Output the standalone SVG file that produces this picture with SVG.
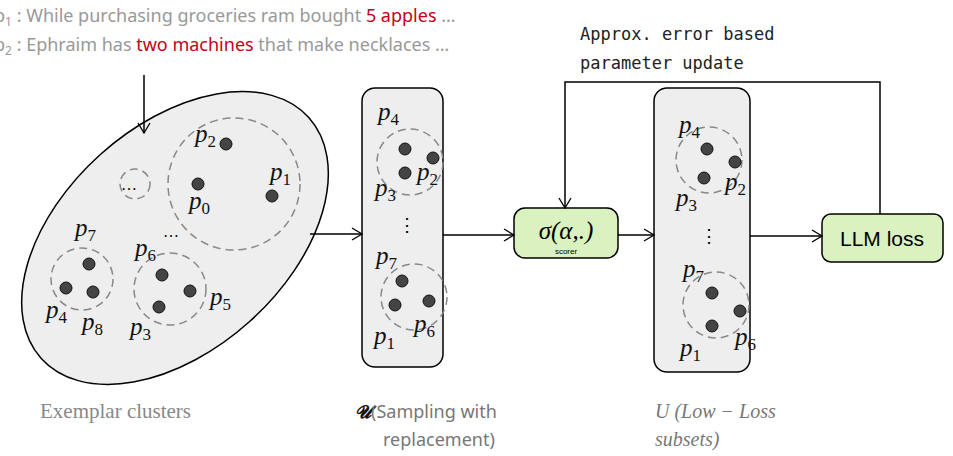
<svg xmlns="http://www.w3.org/2000/svg" width="953" height="456" viewBox="0 0 953 456">
<defs>
<marker id="ah" markerWidth="14" markerHeight="14" refX="11" refY="7" orient="auto" markerUnits="userSpaceOnUse"><path d="M1,1 L11,7 L1,13" fill="none" stroke="#000" stroke-width="1.3"/></marker>
</defs>
<style>
.dot{fill:#444;stroke:#111;stroke-width:1}
.cl{fill:none;stroke:#888;stroke-width:1.5;stroke-dasharray:8 5}
.p{font-family:"Liberation Serif",serif;font-style:italic;font-size:25px;fill:#111}
.p tspan{font-size:17px;font-style:normal}
.box{fill:#eee;stroke:#000;stroke-width:1.5}
.g{fill:#d9f2c0;stroke:#000;stroke-width:1.5}
.ln{fill:none;stroke:#000;stroke-width:1.5}
.t{font-family:"Noto Sans",sans-serif;font-size:18px;fill:#999}
.r{fill:#c4001a}
</style>
<g id="header">
<text class="t" x="-6" y="22">p<tspan font-size="12" dy="4">1</tspan><tspan dy="-4"> : While purchasing groceries ram bought </tspan><tspan class="r">5 apples</tspan> …</text>
<text class="t" x="-6" y="51">p<tspan font-size="12" dy="4">2</tspan><tspan dy="-4"> : Ephraim has </tspan><tspan class="r">two machines</tspan> that make necklaces …</text>
</g>
<g id="update-label" font-family="DejaVu Sans Mono,monospace" font-size="17" fill="#222">
<text x="580" y="40">Approx. error based</text>
<text x="580" y="69">parameter update</text>
</g>
<g id="clusters">
<ellipse cx="175" cy="238" rx="180" ry="112" transform="rotate(-42 175 238)" fill="#eee" stroke="#000" stroke-width="1.5"/>
<circle class="cl" cx="234" cy="184" r="66"/>
<circle class="cl" cx="135" cy="184" r="15"/>
<text x="121" y="190" font-family="Liberation Serif,serif" font-size="16">…</text>
<text x="163" y="237" font-family="Liberation Serif,serif" font-size="16">…</text>
<circle class="cl" cx="82" cy="279" r="31"/>
<circle class="cl" cx="170" cy="289" r="36"/>
<circle class="dot" cx="226" cy="144" r="6"/><text class="p" x="195" y="142">p<tspan dy="5">2</tspan></text>
<circle class="dot" cx="198" cy="184" r="6"/><text class="p" x="189" y="209">p<tspan dy="5">0</tspan></text>
<circle class="dot" cx="272" cy="196" r="6"/><text class="p" x="270" y="180">p<tspan dy="5">1</tspan></text>
<circle class="dot" cx="89" cy="264" r="6"/><text class="p" x="75" y="236">p<tspan dy="5">7</tspan></text>
<circle class="dot" cx="66" cy="288" r="6"/><text class="p" x="46" y="318">p<tspan dy="5">4</tspan></text>
<circle class="dot" cx="93" cy="292" r="6"/><text class="p" x="82" y="330">p<tspan dy="5">8</tspan></text>
<circle class="dot" cx="162" cy="275" r="6"/><text class="p" x="135" y="256">p<tspan dy="5">6</tspan></text>
<circle class="dot" cx="190" cy="291" r="6"/><text class="p" x="210" y="305">p<tspan dy="5">5</tspan></text>
<circle class="dot" cx="159" cy="307" r="6"/><text class="p" x="130" y="335">p<tspan dy="5">3</tspan></text>
<text x="40" y="418" font-family="Liberation Serif,serif" font-size="21" fill="#888">Exemplar clusters</text>
</g>
<g id="sampled">
<rect class="box" x="362" y="88" width="81" height="279" rx="13"/>
<circle class="cl" cx="410" cy="162" r="33"/>
<circle class="cl" cx="414" cy="297" r="33"/>
<circle class="dot" cx="405" cy="149" r="6"/><circle class="dot" cx="433" cy="158" r="6"/><circle class="dot" cx="405" cy="173" r="6"/>
<text class="p" x="378" y="120">p<tspan dy="5">4</tspan></text>
<text class="p" x="417" y="180">p<tspan dy="5">2</tspan></text>
<text class="p" x="375" y="196">p<tspan dy="5">3</tspan></text>
<text x="398" y="231" font-family="Liberation Serif,serif" font-size="18">⋮</text>
<circle class="dot" cx="402" cy="281" r="6"/><circle class="dot" cx="395" cy="305" r="6"/><circle class="dot" cx="429" cy="301" r="6"/>
<text class="p" x="376" y="264">p<tspan dy="5">7</tspan></text>
<text class="p" x="374" y="344">p<tspan dy="5">1</tspan></text>
<text class="p" x="414" y="332">p<tspan dy="5">6</tspan></text>
<text font-family="Noto Sans,sans-serif" font-size="18" fill="#777"><tspan x="355" y="418"><tspan font-family="DejaVu Serif,serif" font-style="italic" font-weight="bold" fill="#111">𝓤</tspan>(Sampling with</tspan><tspan x="383" y="446">replacement)</tspan></text>
</g>
<g id="scorer">
<rect class="g" x="514" y="208" width="104" height="50" rx="11"/>
<text x="566" y="239" text-anchor="middle" font-family="Liberation Serif,serif" font-size="25" font-style="italic">σ(α,.)</text>
<text x="566" y="254" text-anchor="middle" font-family="Liberation Sans,sans-serif" font-size="8">scorer</text>
</g>
<g id="lowloss">
<rect class="box" x="654" y="88" width="96" height="284" rx="13"/>
<circle class="cl" cx="709" cy="160" r="33"/>
<circle class="cl" cx="716" cy="305" r="33"/>
<circle class="dot" cx="707" cy="149" r="6"/><circle class="dot" cx="735" cy="162" r="6"/><circle class="dot" cx="704" cy="178" r="6"/>
<text class="p" x="679" y="133">p<tspan dy="5">4</tspan></text>
<text class="p" x="725" y="190">p<tspan dy="5">2</tspan></text>
<text class="p" x="676" y="206">p<tspan dy="5">3</tspan></text>
<text x="700" y="242" font-family="Liberation Serif,serif" font-size="18">⋮</text>
<circle class="dot" cx="712" cy="293" r="6"/><circle class="dot" cx="740" cy="311" r="6"/><circle class="dot" cx="712" cy="326" r="6"/>
<text class="p" x="683" y="277">p<tspan dy="5">7</tspan></text>
<text class="p" x="680" y="356">p<tspan dy="5">1</tspan></text>
<text class="p" x="735" y="345">p<tspan dy="5">6</tspan></text>
<text font-family="Liberation Serif,serif" font-size="20" font-style="italic" fill="#777"><tspan x="655" y="418">U (Low − Loss</tspan><tspan x="655" y="446">subsets)</tspan></text>
</g>
<g id="llm">
<rect class="g" x="822" y="214" width="121" height="48" rx="9"/>
<text x="882" y="246" text-anchor="middle" font-family="Liberation Sans,sans-serif" font-size="21">LLM loss</text>
</g>
<g id="connectors">
<line class="ln" x1="144" y1="75" x2="144" y2="133" marker-end="url(#ah)"/>
<line class="ln" x1="310" y1="234" x2="362" y2="234" marker-end="url(#ah)"/>
<line class="ln" x1="443" y1="235" x2="514" y2="235" marker-end="url(#ah)"/>
<line class="ln" x1="618" y1="235" x2="654" y2="235" marker-end="url(#ah)"/>
<line class="ln" x1="750" y1="236" x2="822" y2="236" marker-end="url(#ah)"/>
<polyline class="ln" points="880,214 880,82 565,82 565,208" marker-end="url(#ah)"/>
</g>
</svg>
